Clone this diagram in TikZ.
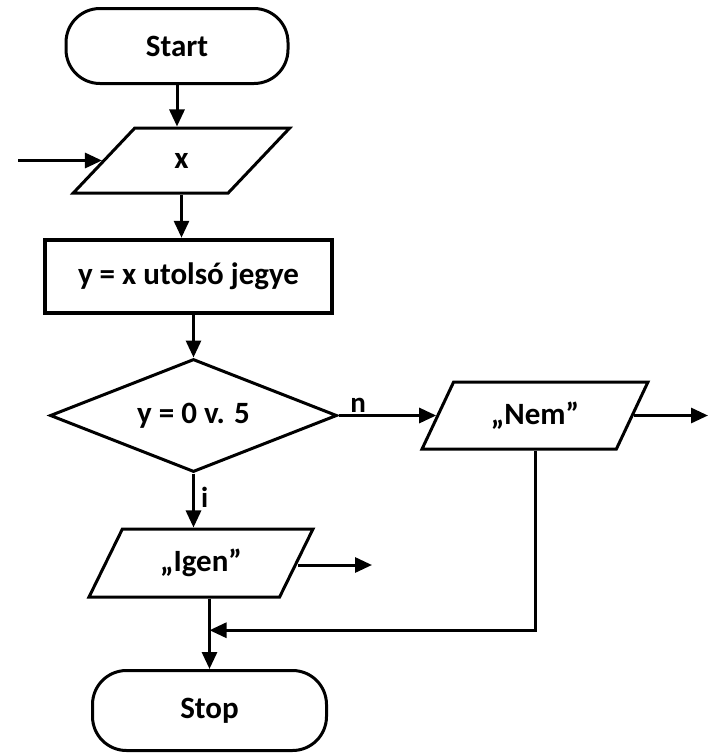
\documentclass[tikz,border=0pt]{standalone}
\usepackage{fontspec}
\setmainfont{Carlito}
\usetikzlibrary{shapes.geometric,arrows.meta,calc}
\begin{document}
\begin{tikzpicture}[x=1pt,y=-1pt,
  every node/.style={font=\fontsize{31}{34}\selectfont\bfseries},
  ln/.style={line width=3pt},
  arr/.style={ln,-{Triangle[length=17pt,width=15pt]}},
  term/.style={draw,ln,rounded corners=34pt,minimum width=222pt,minimum height=75pt},
  io/.style={draw,ln,trapezium,trapezium left angle=58,trapezium right angle=122,
    trapezium stretches=true,inner sep=0pt},
  lbl/.style={font=\fontsize{29}{32}\selectfont\bfseries,inner sep=2pt}
]
\useasboundingbox (0,0) rectangle (710,753);

\node[term] (start) at (177,46) {Start};
\node[io, minimum width=217pt, minimum height=65pt] (x) at (181.5,160.5) {x};
\node[draw, line width=4.5pt, minimum width=287pt, minimum height=73pt] (r) at (188.5,276.5) {y = x utolsó jegye};
\node[draw, ln, diamond, aspect=2.54, minimum width=287pt, minimum height=113pt, inner sep=0pt,
  font=\fontsize{31}{34}\selectfont\bfseries] (d) at (193.5,415.5) {y = 0 v. 5};
\node[io, minimum width=226pt, minimum height=67pt] (nem) at (535,415.5) {„Nem”};
\node[io, minimum width=224pt, minimum height=68pt] (igen) at (201,563) {„Igen”};
\node[term, minimum width=234pt, minimum height=80pt] (stop) at (209.5,710.5) {Stop};

\coordinate (xin) at (18,160.5);
\coordinate (nemout) at (708,415.5);
\coordinate (igenout) at (372,565);

\draw[arr] (start.south) -- (start.south |- x.north);
\draw[arr] (xin) -- (x.left side);
\draw[arr] (x.south) -- (x.south |- r.north);
\draw[arr] (d.north |- r.south) -- (d.north);
\draw[arr] (d.east) -- (nem.left side) node[lbl, pos=0.2, above] {n};
\draw[arr] (nem.right side) -- (nemout);
\draw[arr] (d.south) -- (d.south |- igen.north) node[lbl, midway, right, xshift=4pt, yshift=3pt] {i};
\draw[arr] (igen.right side |- igenout) -- (igenout);
\draw[arr] (stop.north |- igen.south) -- (stop.north);
\draw[arr] (nem.south) |- ($(stop.north |- igen.south)!0.45!(stop.north)$);
\end{tikzpicture}
\end{document}
